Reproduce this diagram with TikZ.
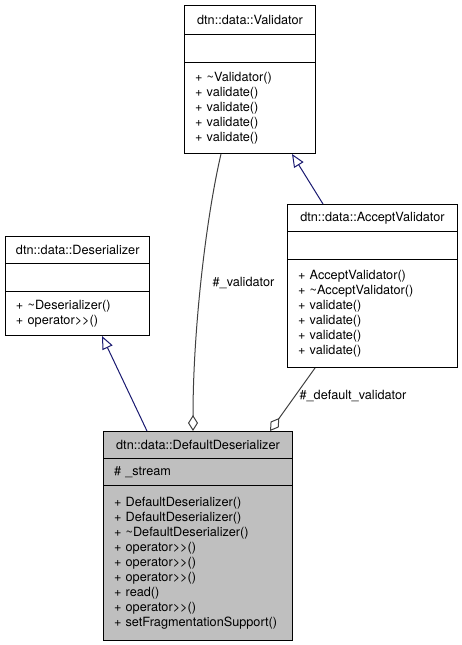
\documentclass[tikz,border=0pt]{standalone}
\usepackage{fontspec}
\setmainfont{TeX Gyre Heros}[Ligatures=TeXOff]
\usetikzlibrary{shapes.multipart, arrows.meta}

\definecolor{inheritblue}{RGB}{25,25,112}
\definecolor{linkgray}{RGB}{64,64,64}
\definecolor{boxgray}{RGB}{191,191,191}

\newcommand{\compartment}[2]{\noindent\parbox[c][#1][c]{\hsize}{#2}}

\tikzset{
  classbox/.style={draw, line width=1pt, rectangle split, rectangle split parts=3,
    anchor=north west, inner xsep=10.5pt, inner ysep=0pt, font=\fontsize{12.7}{15}\selectfont},
  inherit/.style={draw=inheritblue, line width=1pt, -{Triangle[open, length=13pt, width=11pt]}},
  aggregate/.style={draw=linkgray, line width=1pt, -{Diamond[open, length=16pt, width=10pt]}},
  edgelabel/.style={font=\fontsize{12.7}{15}\selectfont, inner sep=0pt}
}

\begin{document}
\begin{tikzpicture}[x=1pt, y=-1pt]
\useasboundingbox (0,0) rectangle (461,645);

% classes
\node[classbox, text width=110pt] (validator) at (184,5) {\compartment{28pt}{\centering dtn::data::Validator}
  \nodepart{two}\compartment{27pt}{}
  \nodepart{three}\compartment{90pt}{+ \textasciitilde Validator()\\ + validate()\\ + validate()\\ + validate()\\ + validate()}};

\node[classbox, text width=123pt] (deserializer) at (5,236) {\compartment{26pt}{\centering dtn::data::Deserializer}
  \nodepart{two}\compartment{27pt}{}
  \nodepart{three}\compartment{43pt}{+ \textasciitilde Deserializer()\\ + operator>>()}};

\node[classbox, text width=149pt] (acceptvalidator) at (287,204) {\compartment{26pt}{\centering dtn::data::AcceptValidator}
  \nodepart{two}\compartment{27pt}{}
  \nodepart{three}\compartment{107pt}{+ AcceptValidator()\\ + \textasciitilde AcceptValidator()\\ + validate()\\ + validate()\\ + validate()\\ + validate()}};

\node[classbox, fill=boxgray, text width=168pt] (defaultdeserializer) at (103,431) {\compartment{26pt}{\centering dtn::data::DefaultDeserializer}
  \nodepart{two}\compartment{26pt}{\# \_stream}
  \nodepart{three}\compartment{154pt}{+ DefaultDeserializer()\\ + DefaultDeserializer()\\ + \textasciitilde DefaultDeserializer()\\ + operator>>()\\ + operator>>()\\ + operator>>()\\ + read()\\ + operator>>()\\ + setFragmentationSupport()}};

% inheritance
\draw[inherit] ([xshift=44pt]defaultdeserializer.north west) -- ([xshift=97pt]deserializer.south west);
\draw[inherit] ([xshift=36pt]acceptvalidator.north west) -- ([xshift=108pt]validator.south west);

% members
\draw[aggregate] ([xshift=37pt]validator.south west) .. controls (206,218) and (193,330) .. ([xshift=90pt]defaultdeserializer.north west);
\draw[aggregate] ([xshift=28pt]acceptvalidator.south west) -- ([xshift=167pt]defaultdeserializer.north west);

\node[edgelabel] (validatorlabel) at (243.5,283) {\#\_validator};
\node[edgelabel] (defaultlabel) at (353,396) {\#\_default\_validator};

\end{tikzpicture}
\end{document}
